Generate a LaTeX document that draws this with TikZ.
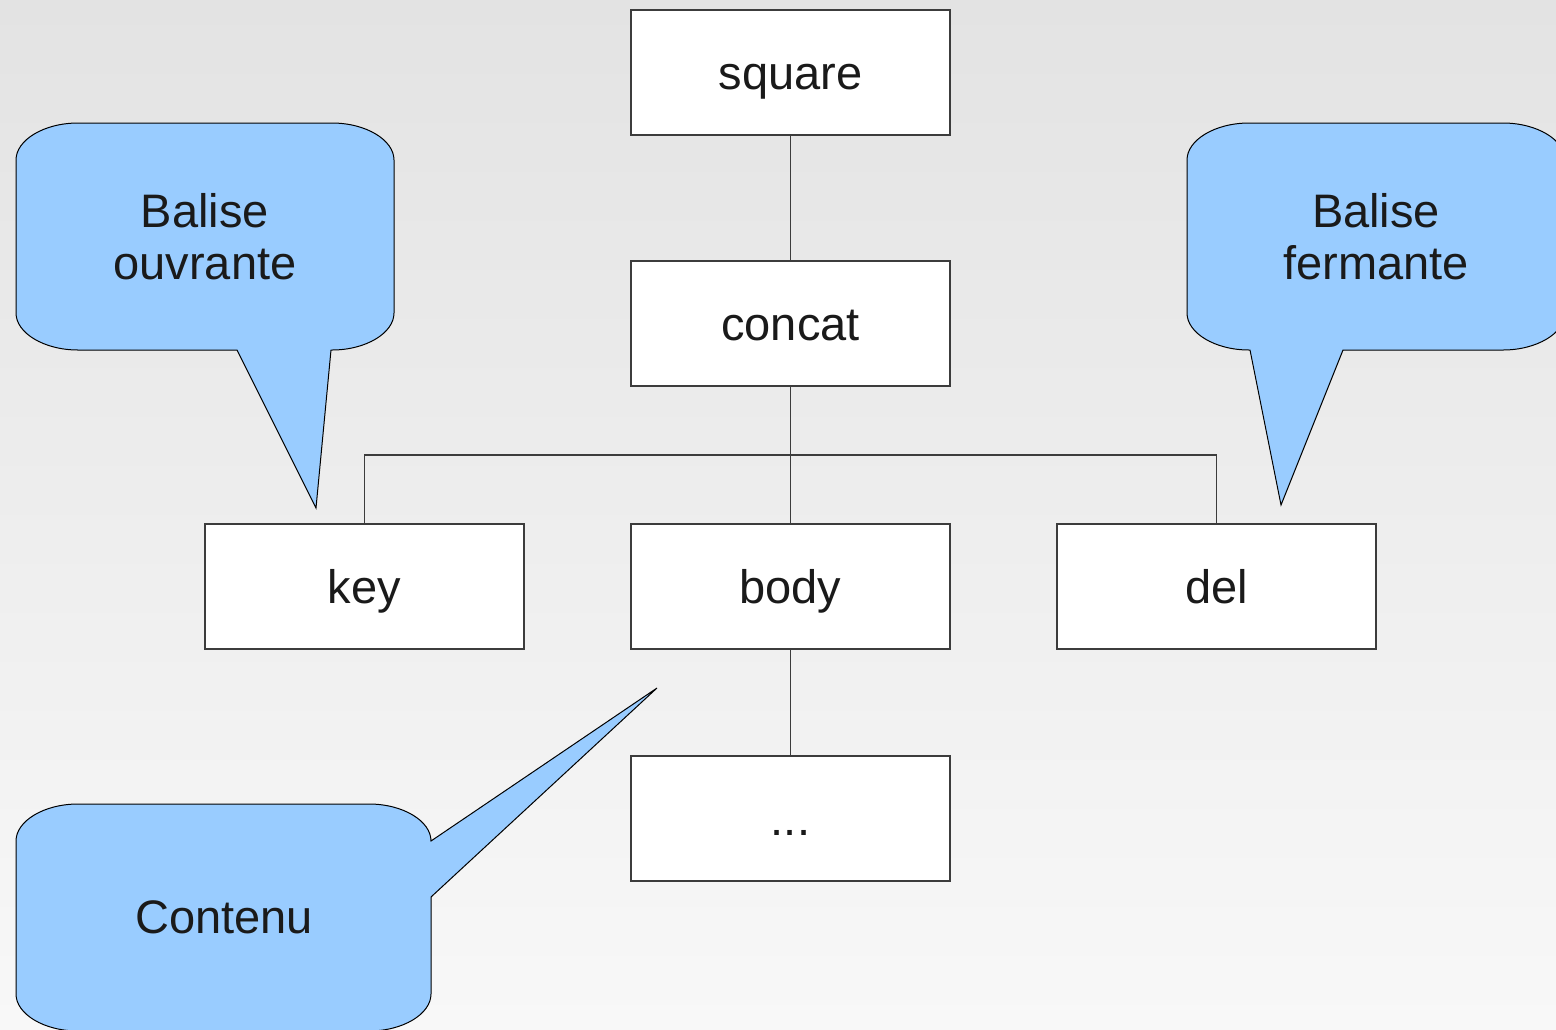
\documentclass[tikz,border=0pt]{standalone}
\usepackage{fontspec}
\setmainfont{Liberation Sans}
\definecolor{bgtop}{HTML}{E3E3E3}
\definecolor{bgbot}{HTML}{F8F8F8}
\definecolor{bubble}{HTML}{99CCFF}
\definecolor{ink}{HTML}{1A1A1A}
\definecolor{edge}{HTML}{3C3C3C}
\tikzset{
  box/.style={draw=edge, line width=1.2pt, fill=white, rectangle,
    minimum width=319pt, minimum height=125pt, inner sep=0pt,
    text height=34pt, text depth=0pt,
    text=ink, font=\fontsize{47}{52}\selectfont},
  link/.style={draw=edge, line width=1.4pt},
  bubblebody/.style={draw=black, line width=1pt, fill=bubble, line join=miter},
  bubbletext/.style={align=center, text=ink, inner sep=0pt,
    font=\fontsize{47}{52}\selectfont}
}
\begin{document}
\begin{tikzpicture}[x=1pt, y=-1pt]
  % page and its soft vertical gradient
  \useasboundingbox (0,0) rectangle (1556,1029);
  \clip (0,0) rectangle (1556,1029);
  \shade[top color=bgtop, bottom color=bgbot] (0,0) rectangle (1556,1029);

  % tree nodes
  \node[box] (square) at (790.5,72.5)  {square};
  \node[box] (concat) at (790.5,323.5) {concat};
  \node[box] (key)    at (364.5,586.5) {key};
  \node[box] (body)   at (790.5,586.5) {body};
  \node[box] (del)    at (1216.5,586.5) {del};
  \node[box] (more)   at (790.5,818.5) {...};
  \coordinate (bus) at (790.5,455);

  % tree connectors
  \draw[link] (square) -- (concat);
  \draw[link, line width=1.8pt] (concat) -- (bus);
  \draw[link] (key.north) |- (bus) -| (del.north);
  \draw[link] (bus) -- (body.north);
  \draw[link] (body) -- (more);

  % callout: opening tag
  \path[bubblebody] (78,123) -- (332,123)
    .. controls (366,123) and (394,140) .. (394,160) -- (394,313)
    .. controls (394,333) and (366,350) .. (332,350)
    -- (331,350) -- (316,508) -- (237,350) -- (78,350)
    .. controls (44,350) and (16,333) .. (16,313) -- (16,160)
    .. controls (16,140) and (44,123) .. (78,123) -- cycle;
  \node[bubbletext] (open) at (205,237) {Balise\\ouvrante};

  % callout: closing tag
  \path[bubblebody] (1249,123) -- (1503,123)
    .. controls (1537,123) and (1565,140) .. (1565,160) -- (1565,313)
    .. controls (1565,333) and (1537,350) .. (1503,350)
    -- (1343,350) -- (1281,505) -- (1250,350) -- (1249,350)
    .. controls (1215,350) and (1187,333) .. (1187,313) -- (1187,160)
    .. controls (1187,140) and (1215,123) .. (1249,123) -- cycle;
  \node[bubbletext] (close) at (1376,237) {Balise\\fermante};

  % callout: content
  \path[bubblebody] (78,804) -- (369,804)
    .. controls (403,804) and (431,821) .. (431,841)
    -- (657,688) -- (431,897) -- (431,994)
    .. controls (431,1014) and (403,1031) .. (369,1031) -- (78,1031)
    .. controls (44,1031) and (16,1014) .. (16,994) -- (16,841)
    .. controls (16,821) and (44,804) .. (78,804) -- cycle;
  \node[bubbletext] (content) at (224,917) {Contenu};
\end{tikzpicture}
\end{document}
